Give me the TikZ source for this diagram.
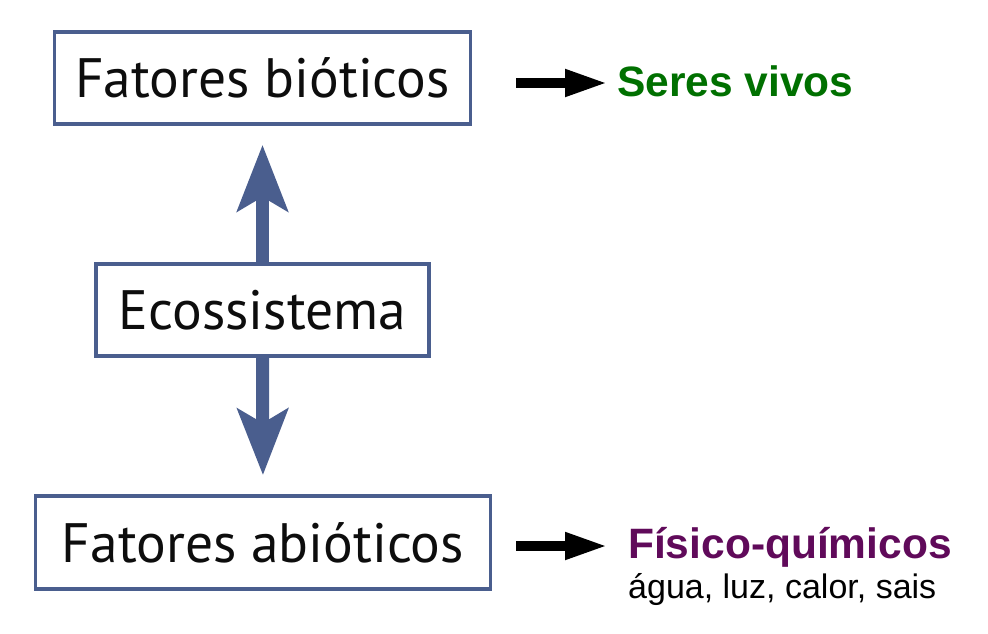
\documentclass[tikz,border=0pt]{standalone}
\usepackage{fontspec}
\setmainfont{Liberation Sans}
\newfontfamily\boxfont{PT Sans}
\usetikzlibrary{arrows.meta}
\definecolor{boxblue}{RGB}{74,94,142}
\definecolor{seresgreen}{RGB}{0,112,0}
\definecolor{fispurple}{RGB}{96,10,90}
\begin{document}
\begin{tikzpicture}[x=1pt,y=-1pt,
  factorbox/.style={draw=boxblue,line width=3.6pt,inner sep=0pt,font=\boxfont\fontsize{55.5}{60}\selectfont,text=black!95},
  bigarrow/.style={boxblue,line width=13pt,-{Stealth[length=66pt,width=50pt,inset=14pt]}},
  smallarrow/.style={black,line width=10pt,-{Triangle[length=43pt,width=25pt]}},
  lbl/.style={inner sep=0pt,anchor=base west}]
\useasboundingbox (0,0) rectangle (988,634);
\node[factorbox,minimum width=416pt,minimum height=92pt] (bio) at (262.5,78) {Fatores bióticos};
\node[factorbox,minimum width=333pt,minimum height=92pt] (eco) at (262.5,310) {Ecossistema};
\node[factorbox,minimum width=455pt,minimum height=93pt] (abio) at (263,542.5) {Fatores abióticos};
\draw[bigarrow,shorten >=19pt] (eco.north) -- (bio.south);
\draw[bigarrow,shorten >=19pt] (eco.south) -- (abio.north);
\node[lbl,font=\bfseries\fontsize{42.5}{46}\selectfont,text=seresgreen] (seres) at (617,96) {Seres vivos};
\node[lbl,font=\bfseries\fontsize{42.5}{46}\selectfont,text=fispurple] (fis) at (628,558) {Físico-químicos};
\node[lbl,font=\fontsize{34}{36}\selectfont] (agua) at (628,598) {água, luz, calor, sais};
\coordinate (a1s) at (516,83);
\coordinate (a1e) at (608,83);
\coordinate (a2s) at (516,546);
\coordinate (a2e) at (608,546);
\draw[smallarrow] (a1s) -- (a1e);
\draw[smallarrow] (a2s) -- (a2e);
\end{tikzpicture}
\end{document}
